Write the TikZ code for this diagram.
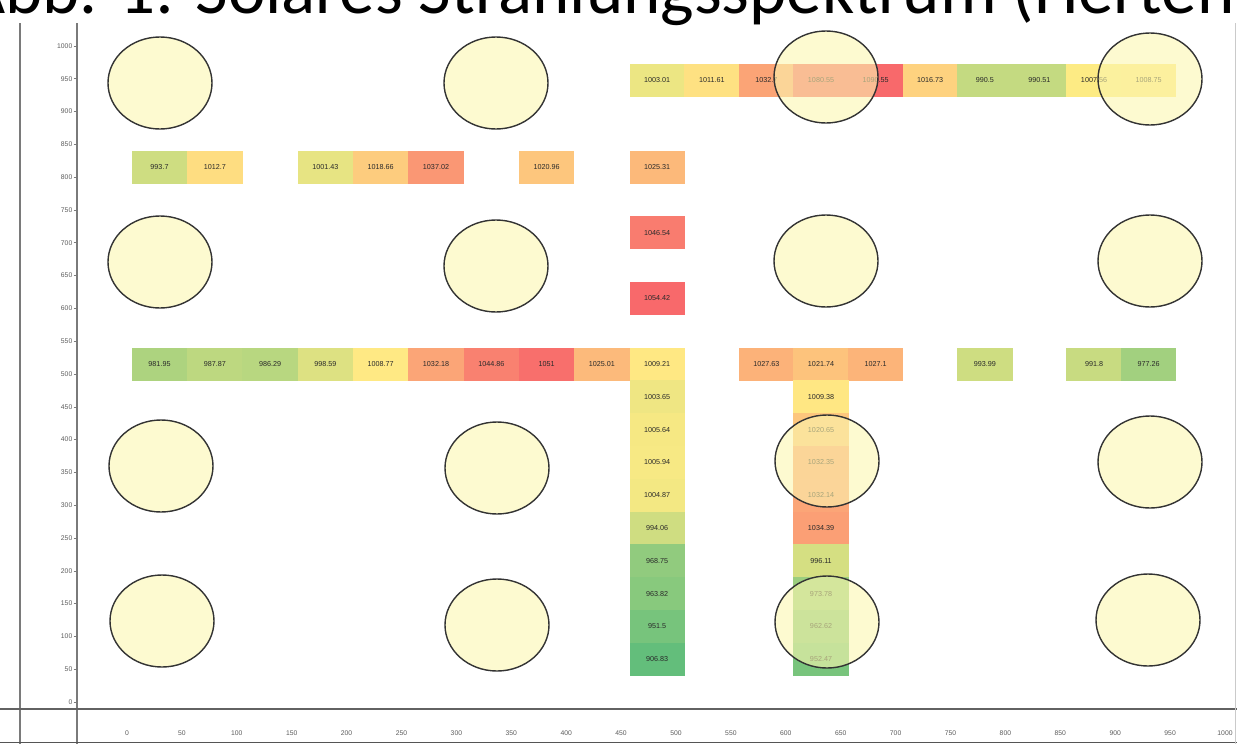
\documentclass[tikz,border=0pt]{standalone}
\usepackage{fontspec}
\setmainfont{Liberation Sans}
\newfontfamily\titlefont{Carlito}
\usetikzlibrary{shapes.geometric}
\definecolor{grn}{HTML}{63BE7B}
\definecolor{yel}{HTML}{FFEB84}
\definecolor{redc}{HTML}{F8696B}
\definecolor{holefill}{HTML}{FBF6B0}
\definecolor{holeline}{HTML}{333333}
\definecolor{axisgray}{HTML}{7A7A7A}
\definecolor{labgray}{HTML}{5A5A5A}
\definecolor{celltext}{HTML}{2A2A2A}
\tikzset{
  cellbox/.style={minimum width=55.4pt, minimum height=33pt, inner sep=0pt,
    font=\fontsize{7.2}{8}\selectfont, text=celltext},
  hole/.style={ellipse, draw=holeline, line width=1.4pt, fill=holefill,
    fill opacity=0.6, draw opacity=1, minimum width=104pt, minimum height=92pt, inner sep=0pt},
  axisline/.style={draw=axisgray, line width=2.6pt},
  ylab/.style={anchor=east, font=\fontsize{6.8}{7}\selectfont, text=labgray, inner sep=0pt},
  xlab/.style={anchor=center, font=\fontsize{6.8}{7}\selectfont, text=labgray, inner sep=0pt},
  tickline/.style={draw=axisgray, line width=0.6pt},
}
\newcommand\cellv[4]{%
  \pgfmathsetmacro\cv{#4}%
  \pgfmathparse{\cv<1008 ? 1 : 0}%
  \ifdim\pgfmathresult pt>0.5pt
    \pgfmathsetmacro\cf{100*pow(max((\cv-906.83)/101.17,0.01),2.5)}%
    \colorlet{cellc}{yel!\cf!grn}%
  \else
    \pgfmathsetmacro\cf{100*min((\cv-1008)/45,1)}%
    \colorlet{cellc}{redc!\cf!yel}%
  \fi
  \node[cellbox, fill=cellc] (#1) at (#2,#3) {#4};%
}
\begin{document}
\begin{tikzpicture}[x=1pt,y=-1pt]
\useasboundingbox (0,0) rectangle (1237,744);
% frame and axes
\coordinate (fl1) at (20,23); \coordinate (fl2) at (20,744);
\coordinate (ax1) at (77,23); \coordinate (ax2) at (77,744);
\coordinate (hx1) at (0,709); \coordinate (hx2) at (1237,709);
\coordinate (bx1) at (0,742.5); \coordinate (bx2) at (1237,742.5);
\coordinate (rx1) at (1235.8,23); \coordinate (rx2) at (1235.8,744);
\draw[axisline] (fl1) -- (fl2);
\draw[axisline] (ax1) -- (ax2);
\draw[draw=axisgray!80!black, line width=2.4pt] (hx1) -- (hx2);
\draw[draw=axisgray!70!black, line width=1pt] (bx1) -- (bx2);
\draw[draw=axisgray!40, line width=1pt] (rx1) -- (rx2);
% y labels
\foreach \v in {0,50,...,1000}{
  \pgfmathsetmacro\yy{702-\v*0.656}
  \node[ylab] (yl\v) at (72.5,\yy) {\v};
  \coordinate (yt\v) at (73.5,\yy);
  \coordinate (ytt\v) at (76,\yy);
  \draw[tickline] (yt\v) -- (ytt\v);
}
% x labels
\foreach \v in {0,50,...,1000}{
  \pgfmathsetmacro\xx{127+\v*1.098}
  \node[xlab] (xl\v) at (\xx,733) {\v};
}
% cells: top row
\cellv{t0}{657.2}{80}{1003.01}
\cellv{t1}{711.8}{80}{1011.61}
\cellv{t2}{766.4}{80}{1032.7}
\cellv{t3}{821.0}{80}{1080.55}
\cellv{t4}{875.6}{80}{1090.55}
\cellv{t5}{930.2}{80}{1016.73}
\cellv{t6}{984.8}{80}{990.5}
\cellv{t7}{1039.4}{80}{990.51}
\cellv{t8}{1094.0}{80}{1007.56}
\cellv{t9}{1148.6}{80}{1008.75}
% row 800
\cellv{a0}{159.5}{167.2}{993.7}
\cellv{a1}{214.8}{167.2}{1012.7}
\cellv{a3}{325.4}{167.2}{1001.43}
\cellv{a4}{380.7}{167.2}{1018.66}
\cellv{a5}{436.0}{167.2}{1037.02}
\cellv{a7}{546.6}{167.2}{1020.96}
\cellv{a9}{657.2}{167.2}{1025.31}
% single cells
\cellv{b9}{657.2}{232.8}{1046.54}
\cellv{c9}{657.2}{298.4}{1054.42}
% row 500
\cellv{d0}{159.5}{364}{981.95}
\cellv{d1}{214.8}{364}{987.87}
\cellv{d2}{270.1}{364}{986.29}
\cellv{d3}{325.4}{364}{998.59}
\cellv{d4}{380.7}{364}{1008.77}
\cellv{d5}{436.0}{364}{1032.18}
\cellv{d6}{491.3}{364}{1044.86}
\cellv{d7}{546.6}{364}{1051}
\cellv{d8}{601.9}{364}{1025.01}
\cellv{d9}{657.2}{364}{1009.21}
\cellv{d11}{766.4}{364}{1027.63}
\cellv{d12}{821.0}{364}{1021.74}
\cellv{d13}{875.6}{364}{1027.1}
\cellv{d15}{984.8}{364}{993.99}
\cellv{d17}{1094.0}{364}{991.8}
\cellv{d18}{1148.6}{364}{977.26}
% main column
\cellv{m1}{657.2}{396.8}{1003.65}
\cellv{m2}{657.2}{429.6}{1005.64}
\cellv{m3}{657.2}{462.4}{1005.94}
\cellv{m4}{657.2}{495.2}{1004.87}
\cellv{m5}{657.2}{528}{994.06}
\cellv{m6}{657.2}{560.8}{968.75}
\cellv{m7}{657.2}{593.6}{963.82}
\cellv{m8}{657.2}{626.4}{951.5}
\cellv{m9}{657.2}{659.2}{906.83}
% second column
\cellv{n1}{821.0}{396.8}{1009.38}
\cellv{n2}{821.0}{429.6}{1020.65}
\cellv{n3}{821.0}{462.4}{1032.35}
\cellv{n4}{821.0}{495.2}{1032.14}
\cellv{n5}{821.0}{528}{1034.39}
\cellv{n6}{821.0}{560.8}{996.11}
\cellv{n7}{821.0}{593.6}{973.78}
\cellv{n8}{821.0}{626.4}{962.62}
\cellv{n9}{821.0}{659.2}{952.47}
% circles
\node[hole] (h11) at (160,83) {};
\node[hole] (h12) at (496,83) {};
\node[hole] (h13) at (826,77) {};
\node[hole] (h14) at (1150,79) {};
\node[hole] (h21) at (160,262) {};
\node[hole] (h22) at (496,266) {};
\node[hole] (h23) at (826,261) {};
\node[hole] (h24) at (1150,261) {};
\node[hole] (h31) at (161,466) {};
\node[hole] (h32) at (497,468) {};
\node[hole] (h33) at (827,461) {};
\node[hole] (h34) at (1150,462) {};
\node[hole] (h41) at (162,621) {};
\node[hole] (h42) at (497,625) {};
\node[hole] (h43) at (827,622) {};
\node[hole] (h44) at (1148,620) {};
% title (cut at the top edge, as in the reference)
\node[anchor=base west, inner sep=0pt, font=\titlefont\fontsize{71}{80}\selectfont] (title) at (-36,13) {Abb. 1: Solares Strahlungsspektrum (Hertenb};
\end{tikzpicture}
\end{document}
